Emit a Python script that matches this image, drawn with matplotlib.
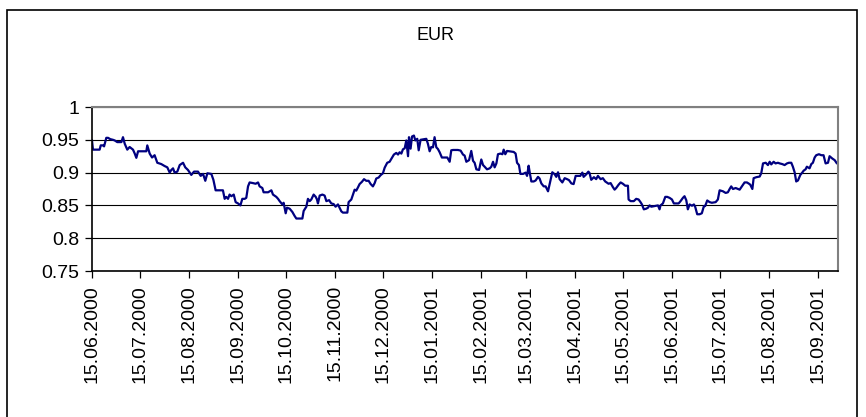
import matplotlib
matplotlib.use("Agg")
import matplotlib.pyplot as plt
import matplotlib.dates as mdates
from matplotlib.patches import Rectangle
import pandas as pd

plt.rcParams["font.family"] = ["Liberation Sans", "DejaVu Sans"]

start = pd.Timestamp("2000-06-15")
end_day = 469.5

# days after 15.06.2000 and EUR rate
days = [
    0.0, 0.6, 4.8, 5.5, 6.9, 7.6, 9.0, 10.1, 11.5, 13.2, 14.3, 15.9, 18.5, 19.5,
    20.6, 22.2, 23.7, 25.8, 26.9, 27.9, 29.0, 34.2, 34.8, 36.3, 37.8, 39.4, 41.1,
    43.6, 45.7, 47.4, 48.9, 49.9, 51.0, 52.0, 53.7, 55.2, 57.3, 58.7, 60.4, 62.5,
    64.2, 66.7, 68.4, 69.9, 71.3, 72.6, 75.1, 76.4,
    77.8, 82.4, 83.5, 84.5, 85.6, 86.6, 87.7, 89.2, 90.4, 91.9, 93.4, 94.6, 96.1,
    97.1, 98.2, 99.2, 101.3, 103.0, 104.5, 105.5, 107.2, 108.0, 110.8, 112.9,
    113.9, 116.0, 117.1, 118.1, 119.8, 120.6, 121.9, 122.7, 124.4, 126.1, 127.5,
    128.6, 132.4, 133.2, 134.9, 135.9, 137.0, 138.0, 139.5, 140.8, 141.6, 142.2,
    143.3, 145.0, 146.4, 147.5, 149.2, 150.6, 152.1, 153.3, 154.8,
    156.9, 157.9, 160.7, 161.5, 163.2, 164.2, 165.3, 166.3, 167.4, 168.4, 169.9,
    171.2, 172.6, 174.1, 175.4, 176.8, 177.9, 178.9, 180.4, 181.6, 183.1, 184.2,
    185.8, 187.3, 188.4, 190.0, 191.5, 192.6, 193.6, 194.7, 195.7, 196.8, 197.8,
    198.9, 199.5, 200.5, 201.4, 202.6, 203.5, 204.7, 205.6, 206.8, 210.4, 211.4,
    212.5, 213.5, 214.6, 215.6, 216.7, 217.7, 218.8, 220.2, 221.9, 223.6, 225.1,
    226.1, 227.2, 230.3, 232.0, 233.5,
    234.5, 235.6, 237.3, 238.7, 239.8, 240.8, 241.9, 243.6, 245.0, 246.1, 247.1,
    248.6, 250.3, 251.3, 252.4, 253.4, 254.5, 255.5, 257.0, 258.3, 259.1, 260.1,
    261.2, 265.4, 266.6, 267.5, 268.7, 269.6, 271.3, 272.9, 273.8, 274.8, 275.5,
    276.5, 278.0, 279.2, 280.7, 281.7, 282.8, 284.3, 285.5, 287.0, 287.6, 288.5,
    289.7, 291.2, 292.2, 293.3, 294.3, 296.0, 297.5, 299.0, 300.2, 301.7, 303.1,
    304.4, 307.3, 308.6, 309.4, 311.1, 312.4,
    313.1, 314.2, 315.9, 317.3, 318.4, 320.1, 321.5, 323.0, 325.1, 326.4, 327.8,
    328.9, 329.9, 331.4, 332.7, 334.1, 335.6, 337.3, 337.7, 339.0, 341.0, 342.5,
    344.0, 345.2, 346.1, 347.3, 348.8, 349.9, 350.9, 352.0, 356.2, 357.2, 357.8,
    359.3, 360.8, 362.0, 363.5, 365.0, 366.2, 369.2, 370.4, 371.9, 372.9, 374.0,
    375.0, 376.1, 377.6, 378.8, 379.6, 380.9, 382.4, 383.8, 385.1, 385.9, 387.2,
    388.7, 390.1,
    392.5, 393.9, 395.0, 397.1, 398.8, 400.2, 401.3, 402.3, 403.4, 405.1, 407.6,
    409.3, 410.7, 412.2, 413.5, 414.3, 415.6, 416.4, 418.1, 420.2, 421.2, 422.3,
    424.0, 425.4, 426.5, 427.5, 429.0, 430.2, 431.7, 432.8, 434.4, 435.9, 437.4,
    438.6, 440.1, 441.1, 442.2, 443.2, 444.3, 445.8, 447.0, 447.9, 449.1, 449.9,
    451.6, 452.7, 453.7, 454.8, 455.8, 457.5, 459.0, 460.4, 461.7, 463.2, 464.2,
    465.9, 467.4, 468.8, 469.7,
]
eur = [
    0.949, 0.935, 0.935, 0.9415, 0.9415, 0.940, 0.953, 0.953, 0.951, 0.950, 0.949,
    0.9465, 0.9465, 0.954, 0.944, 0.935, 0.939, 0.935, 0.929, 0.9225, 0.9325,
    0.9325, 0.9415, 0.929, 0.923, 0.9265, 0.915, 0.913, 0.910, 0.908, 0.900,
    0.904, 0.9065, 0.900, 0.9015, 0.9115, 0.915, 0.908, 0.904, 0.8965, 0.9015,
    0.9015, 0.895, 0.898, 0.8875, 0.899, 0.898, 0.889,
    0.873, 0.873, 0.860, 0.863, 0.860, 0.8665, 0.864, 0.8665, 0.855, 0.853, 0.850,
    0.860, 0.860, 0.8615, 0.879, 0.885, 0.884, 0.883, 0.885, 0.879, 0.8765, 0.870,
    0.870, 0.873, 0.8665, 0.863, 0.860, 0.8565, 0.8515, 0.854, 0.838, 0.8465,
    0.845, 0.840, 0.834, 0.830, 0.830, 0.8415, 0.848, 0.860, 0.8565, 0.859,
    0.8665, 0.863, 0.859, 0.853, 0.865, 0.8665, 0.865, 0.8565, 0.858, 0.853,
    0.852, 0.848, 0.8515,
    0.841, 0.839, 0.839, 0.855, 0.859, 0.866, 0.874, 0.8725, 0.8775, 0.8825,
    0.886, 0.890, 0.8875, 0.8875, 0.8825, 0.879, 0.884, 0.891, 0.8925, 0.896,
    0.899, 0.9075, 0.915, 0.9165, 0.921, 0.9275, 0.930, 0.9275, 0.931, 0.929,
    0.9355, 0.937, 0.949, 0.925, 0.954, 0.9365, 0.955, 0.9565, 0.949, 0.9515,
    0.934, 0.950, 0.9515, 0.944, 0.9325, 0.939, 0.9385, 0.954, 0.9385, 0.936,
    0.931, 0.923, 0.923, 0.923, 0.9165, 0.934, 0.9345, 0.9345, 0.9335, 0.9275,
    0.926, 0.9165, 0.919, 0.933, 0.918, 0.915, 0.905, 0.904, 0.920, 0.9115, 0.909,
    0.905, 0.9065, 0.909, 0.9165, 0.908, 0.914, 0.928, 0.929, 0.928, 0.935, 0.928,
    0.933, 0.9315, 0.929, 0.915, 0.9115, 0.898, 0.898, 0.900, 0.895, 0.9105,
    0.900, 0.8865, 0.8865, 0.888, 0.8935, 0.891, 0.8835, 0.879, 0.879, 0.8715,
    0.878, 0.888, 0.9005, 0.8975, 0.8935, 0.9005, 0.890, 0.885, 0.8915, 0.890,
    0.8885, 0.8835, 0.8825, 0.895, 0.895, 0.900, 0.8935, 0.8975, 0.9015,
    0.8995, 0.889, 0.893, 0.890, 0.895, 0.890, 0.8915, 0.8865, 0.883, 0.884,
    0.878, 0.874, 0.8765, 0.8815, 0.885, 0.883, 0.880, 0.880, 0.859, 0.8565,
    0.8565, 0.860, 0.859, 0.855, 0.8515, 0.844, 0.845, 0.8465, 0.850, 0.848,
    0.850, 0.844, 0.850, 0.853, 0.863, 0.863, 0.8615, 0.859, 0.853, 0.853,
    0.8565, 0.8615, 0.864, 0.858, 0.844, 0.8515, 0.8495, 0.8515, 0.848, 0.8365,
    0.8365, 0.838, 0.849, 0.849, 0.8575, 0.855, 0.854,
    0.855, 0.859, 0.873, 0.8715, 0.869, 0.870, 0.875, 0.879, 0.875, 0.8765,
    0.874, 0.880, 0.885, 0.885, 0.883, 0.8815, 0.875, 0.8915, 0.893, 0.894,
    0.899, 0.914, 0.915, 0.9115, 0.9165, 0.9125, 0.9165, 0.914, 0.915, 0.914,
    0.913, 0.9115, 0.914, 0.915, 0.915, 0.909, 0.9005, 0.8865, 0.888, 0.8965,
    0.900, 0.903, 0.905, 0.909, 0.9065, 0.913, 0.915, 0.923, 0.9265, 0.928,
    0.9265, 0.9265, 0.914, 0.915, 0.925, 0.9215, 0.919, 0.914, 0.915,
]
y_ticks = [0.75, 0.8, 0.85, 0.9, 0.95, 1.0]
y_labels = ["0.75", "0.8", "0.85", "0.9", "0.95", "1"]

dates = start + pd.to_timedelta(days, unit="D")

fig = plt.figure(figsize=(8.66, 4.17), dpi=100)
W, H = 866, 417
ax = fig.add_axes([92 / W, 1 - 271 / H, (838 - 92) / W, (271 - 107) / H])

# outer chart border
fig.patches.append(Rectangle((7 / W, -0.05), (857 - 7) / W, 1.05 - 10 / H,
                             transform=fig.transFigure, fill=False,
                             edgecolor="black", linewidth=1.2))

ax.plot(dates, eur, color="#000080", linewidth=1.6)

ax.set_ylim(0.75, 1.0)
ax.set_xlim(start, start + pd.Timedelta(days=end_day))
ax.set_yticks(y_ticks)
ax.set_yticklabels(y_labels)
ax.yaxis.grid(True, color="black", linewidth=0.8)
ax.set_axisbelow(True)

ax.xaxis.set_major_locator(mdates.MonthLocator(bymonthday=15))
ax.xaxis.set_major_formatter(mdates.DateFormatter("%d.%m.%Y"))
plt.setp(ax.get_xticklabels(), rotation=90)

ax.tick_params(axis="both", labelsize=14, length=5, width=0.9, direction="out")
ax.tick_params(axis="x", pad=5)
ax.tick_params(axis="y", pad=4)

for side in ["top", "right"]:
    ax.spines[side].set_color("#808080")
    ax.spines[side].set_linewidth(1.5)
for side in ["left", "bottom"]:
    ax.spines[side].set_color("black")
    ax.spines[side].set_linewidth(1.2)

fig.text(436 / W, 1 - 36 / H, "EUR", ha="center", va="center", fontsize=13)

fig.savefig("out.png", dpi=100)
